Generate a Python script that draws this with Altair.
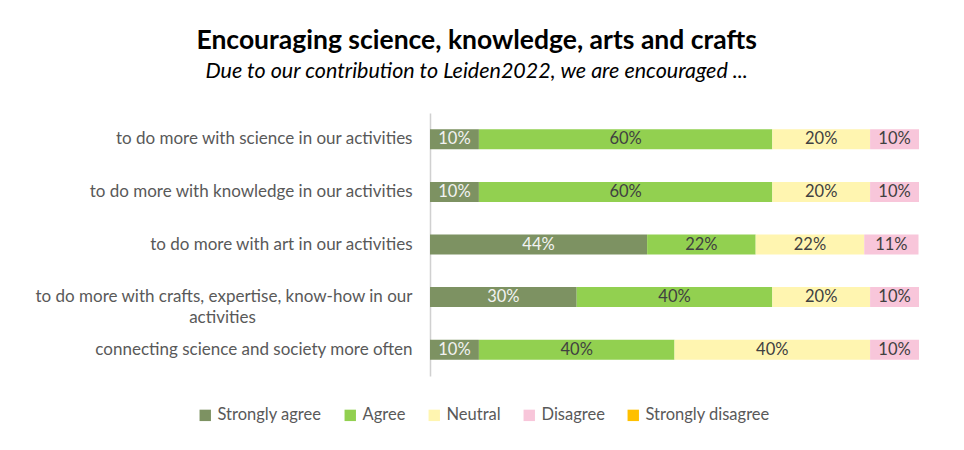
import altair as alt
import pandas as pd

categories = [
    "to do more with science in our activities",
    "to do more with knowledge in our activities",
    "to do more with art in our activities",
    "to do more with crafts, expertise, know-how in our activities",
    "connecting science and society more often",
]
responses = ["Strongly agree", "Agree", "Neutral", "Disagree", "Strongly disagree"]
strongly_agree = [10, 10, 44.4, 30, 10]
agree = [60, 60, 22.2, 40, 40]
neutral = [20, 20, 22.2, 20, 40]
disagree = [10, 10, 11.1, 10, 10]
strongly_disagree = [0, 0, 0, 0, 0]
colors = ["#7d9262", "#92d050", "#fff5b0", "#f8c6da", "#ffc000"]

series = [strongly_agree, agree, neutral, disagree, strongly_disagree]
rows = []
for ri, (resp, vals) in enumerate(zip(responses, series)):
    for cat, v in zip(categories, vals):
        rows.append({"category": cat, "response": resp, "order": ri, "value": v})
df = pd.DataFrame(rows)

FONT = "Lato"
PAD = "\u00a0" * 36 + "\u200b"

base = alt.Chart(df).transform_stack(
    stack="value", groupby=["category"], as_=["x0", "x1"],
    sort=[alt.SortField("order", order="ascending")]
).transform_calculate(
    mid="(datum.x0 + datum.x1) / 2",
    lbl="format(datum.value, '.0f') + '%'",
    txtcol="datum.response == 'Strongly agree' ? 'light' : 'dark'"
)

yenc = alt.Y(
    "category:N", sort=categories, title=None,
    scale=alt.Scale(paddingInner=0.62, paddingOuter=0.31),
    axis=alt.Axis(
        domain=True, domainColor="#d0d0d0", domainWidth=1.5, ticks=False, grid=False,
        labelFont=FONT, labelFontSize=17, labelColor="#595959", labelPadding=18,
        labelLimit=500, labelLineHeight=21,
        labelExpr="datum.label == 'to do more with crafts, expertise, know-how in our activities' ? ['to do more with crafts, expertise, know-how in our', 'activities" + PAD + "'] : datum.label",
    ),
)
xscale = alt.Scale(domain=[0, 100], nice=False)

bars = base.mark_bar().encode(
    y=yenc,
    x=alt.X("x0:Q", scale=xscale, axis=None),
    x2="x1:Q",
    color=alt.Color(
        "response:N", sort=responses,
        scale=alt.Scale(domain=responses, range=colors),
        legend=alt.Legend(
            title=None, orient="none", direction="horizontal", legendX=-233, legendY=294,
            symbolType="square", symbolSize=130, symbolStrokeWidth=0,
            labelFont=FONT, labelFontSize=16.5, labelColor="#595959",
            columnPadding=20, labelOffset=4,
        ),
    ),
)

labels = base.transform_filter("datum.value > 0").mark_text(
    font=FONT, fontSize=16.5, baseline="middle", align="center"
).encode(
    y=alt.Y("category:N", sort=categories),
    x=alt.X("mid:Q", scale=xscale),
    text="lbl:N",
    color=alt.Color("txtcol:N", scale=alt.Scale(domain=["light", "dark"], range=["#f2f2f2", "#404040"]), legend=None),
)

chart = alt.layer(bars, labels).resolve_scale(color="independent").properties(
    width=489, height=263,
    title=alt.Title(
        "Encouraging science, knowledge, arts and crafts",
        subtitle="Due to our contribution to Leiden2022, we are encouraged ...",
        font=FONT, fontSize=26.5, fontWeight="bold", color="#000000",
        subtitleFont=FONT, subtitleFontSize=21.5, subtitleFontStyle="italic", subtitleColor="#000000",
        anchor="middle", frame="bounds", offset=31, subtitlePadding=6,
    ),
    padding={"left": 26, "top": 20, "right": 30, "bottom": 10},
).configure(background="white").configure_view(strokeWidth=0)

chart.save("out.html", embed_options={"renderer": "svg", "actions": False})
